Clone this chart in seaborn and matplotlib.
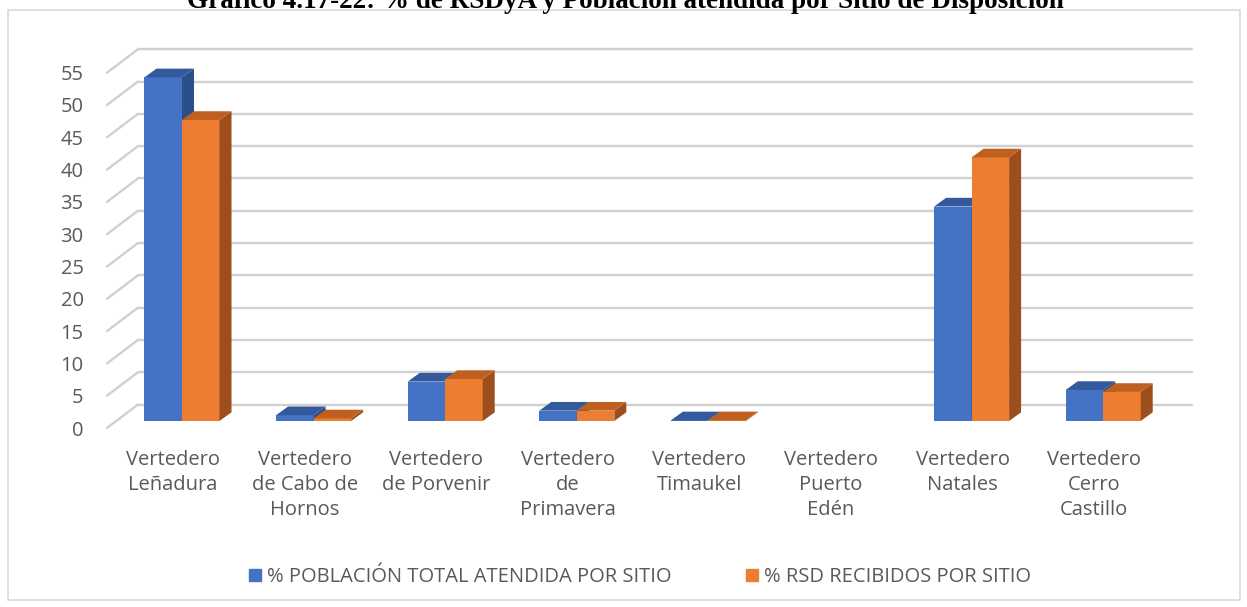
import pandas as pd
import matplotlib.pyplot as plt
import matplotlib.patches as mpatches
import matplotlib.transforms as mtransforms
import seaborn as sns

# -----------------------------
# Data
# -----------------------------
sitios = ["Leñadura", "Cabo de Hornos", "Porvenir", "Primavera",
          "Timaukel", "Puerto Edén", "Natales", "Cerro Castillo"]
etiquetas = ["Vertedero\nLeñadura", "Vertedero\nde Cabo de\nHornos", "Vertedero\nde Porvenir",
             "Vertedero\nde\nPrimavera", "Vertedero\nTimaukel", "Vertedero\nPuerto\nEdén",
             "Vertedero\nNatales", "Vertedero\nCerro\nCastillo"]
series = ["% POBLACIÓN TOTAL ATENDIDA POR SITIO", "% RSD RECIBIDOS POR SITIO"]
poblacion = [53.2, 0.9, 6.1, 1.6, 0.1, 0.0, 33.2, 4.8]
rsd = [46.6, 0.4, 6.5, 1.6, 0.1, 0.0, 40.8, 4.5]
yticks = list(range(0, 60, 5))

df = pd.DataFrame({
    "sitio": sitios * 2,
    "valor": poblacion + rsd,
    "serie": [series[0]] * len(sitios) + [series[1]] * len(sitios),
})

# -----------------------------
# Style
# -----------------------------
sns.set_style("white")
plt.rcParams["font.family"] = ["Open Sans", "DejaVu Sans"]
text_grey = "#595959"
grid_grey = "#d0d0d0"
blue, blue_top, blue_side = "#4472C4", "#34599c", "#2c4e8a"
orange, orange_top, orange_side = "#ED7D31", "#bf601f", "#9c4f1c"

W, H, DPI = 1247, 607, 100
fig = plt.figure(figsize=(W / DPI, H / DPI), dpi=DPI)

# pixel layout of the plot region (bar plane)
px_left, px_right, px_top, px_bottom = 103, 1192, 30, 440
x0_px, ux = 182, 131.6      # first category centre, px per category
y0_px, uy = 421, 6.46       # zero line of bar plane, px per unit

ax = fig.add_axes([px_left / W, 1 - px_bottom / H,
                   (px_right - px_left) / W, (px_bottom - px_top) / H])

sns.barplot(data=df, x="sitio", y="valor", hue="serie", order=sitios,
            palette=[blue, orange], width=0.57, saturation=1,
            legend=False, ax=ax, zorder=3, linewidth=0)

ax.set_xlim((px_left - x0_px) / ux, (px_right - x0_px) / ux)
ax.set_ylim(-(px_bottom - y0_px) / uy, (y0_px - px_top) / uy)

# -----------------------------
# Pseudo-3D walls and gridlines
# -----------------------------
front_x = (107 - x0_px) / ux
back_x = (138 - x0_px) / ux
front_dy = -7 / uy
back_dy = 16.5 / uy
xmax = ax.get_xlim()[1]
for v in yticks:
    ax.plot([front_x, back_x], [v + front_dy, v + back_dy], color=grid_grey,
            lw=1.7, zorder=1, clip_on=False, solid_capstyle="round")
    ax.plot([back_x, xmax], [v + back_dy, v + back_dy], color=grid_grey,
            lw=1.7, zorder=1, clip_on=False, solid_capstyle="round")

# bar tops and sides
dx, dy = 12 / ux, 8.7 / uy
faces = [(blue_top, blue_side, 3.1), (orange_top, orange_side, 3.3)]
for cont, (c_top, c_side, z) in zip(ax.containers, faces):
    for p in cont.patches:
        p.set_zorder(z - 0.05)
        x, w, h = p.get_x(), p.get_width(), p.get_height()
        if h <= 0:
            continue
        top = [(x, h), (x + w, h), (x + w + dx, h + dy), (x + dx, h + dy)]
        side = [(x + w, 0), (x + w + dx, dy), (x + w + dx, h + dy), (x + w, h)]
        ax.add_patch(mpatches.Polygon(side, closed=True, fc=c_side, ec="none", zorder=z))
        ax.add_patch(mpatches.Polygon(top, closed=True, fc=c_top, ec="none", zorder=z))

# -----------------------------
# Axes text
# -----------------------------
sns.despine(ax=ax, left=True, bottom=True)
ax.set_xlabel("")
ax.set_ylabel("")
ax.set_yticks(yticks)
ax.set_yticklabels([str(t) for t in yticks], fontsize=14.5, color=text_grey)
ax.set_xticks(range(len(sitios)))
ax.set_xticklabels(etiquetas, fontsize=14.5, color=text_grey, linespacing=1.34)
ax.tick_params(axis="y", length=0, pad=14)
ax.tick_params(axis="x", length=0, pad=0)
for lab in ax.get_yticklabels():
    lab.set_transform(lab.get_transform() + mtransforms.ScaledTranslation(0, -7 / DPI, fig.dpi_scale_trans))
for lab in ax.get_xticklabels():
    lab.set_transform(lab.get_transform() + mtransforms.ScaledTranslation(-9 / DPI, -10 / DPI, fig.dpi_scale_trans))

# legend
handles = [mpatches.Patch(color=blue, label=series[0]),
           mpatches.Patch(color=orange, label=series[1])]
fig.legend(handles=handles, loc="center", bbox_to_anchor=(640 / W, 1 - 577 / H),
           ncol=2, frameon=False, fontsize=14.5, labelcolor=text_grey,
           handlelength=0.6, handleheight=0.6, handletextpad=0.3, columnspacing=3.7)

# chart border and (cropped) title
fig.add_artist(mpatches.Rectangle((8 / W, 1 - 600 / H), 1232 / W, 590 / H,
                                  transform=fig.transFigure, fill=False,
                                  ec="#d9d9d9", lw=1.2))
fig.text(625 / W, 1 - 7.5 / H, "Gráfico 4.17-22: % de RSDyA y Población atendida por Sitio de Disposición",
         ha="center", va="baseline", fontsize=19.5, fontweight="bold",
         family="Liberation Serif", color="black")

fig.savefig("out.png", dpi=DPI, facecolor="white")
